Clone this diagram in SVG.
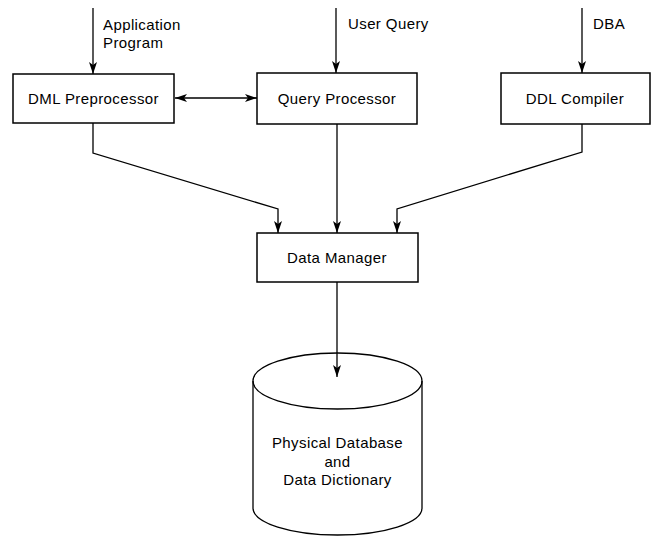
<svg xmlns="http://www.w3.org/2000/svg" width="652" height="536" viewBox="0 0 652 536">
<style>
.box{fill:#fff;stroke:#000;stroke-width:1.5}
.ln{fill:none;stroke:#000;stroke-width:1.3}
text{font-family:"Liberation Sans",Arial,sans-serif;font-size:15px;letter-spacing:0.4px;fill:#000}
.c{text-anchor:middle}
</style>
<defs>
<marker id="ah" viewBox="0 0 12 8" refX="12" refY="4" markerWidth="12" markerHeight="8" markerUnits="userSpaceOnUse" orient="auto-start-reverse">
<path d="M0,0 L12,4 L0,8 L3,4 z" fill="#000"/>
</marker>
</defs>
<rect width="652" height="536" fill="#fff"/>
<g id="connectors">
<line class="ln" x1="93" y1="8" x2="93" y2="74" marker-end="url(#ah)"/>
<line class="ln" x1="336" y1="8" x2="336" y2="73" marker-end="url(#ah)"/>
<line class="ln" x1="582" y1="8" x2="582" y2="73" marker-end="url(#ah)"/>
<line class="ln" x1="175" y1="98" x2="257" y2="98" marker-start="url(#ah)" marker-end="url(#ah)"/>
<polyline class="ln" points="93,123 93,153 278,209 278,233" marker-end="url(#ah)"/>
<line class="ln" x1="337" y1="124" x2="337" y2="233" marker-end="url(#ah)"/>
<polyline class="ln" points="582,124 582,152 397,209 397,233" marker-end="url(#ah)"/>
<line class="ln" x1="337" y1="282" x2="337" y2="377" marker-end="url(#ah)"/>
</g>
<g id="label-app">
<text x="103" y="30">Application</text>
<text x="103" y="48">Program</text>
</g>
<g id="label-user"><text x="348" y="29">User Query</text></g>
<g id="label-dba"><text x="593" y="29">DBA</text></g>
<g id="dml">
<rect class="box" x="13" y="74" width="161" height="49"/>
<text class="c" x="93.5" y="104">DML Preprocessor</text>
</g>
<g id="query">
<rect class="box" x="257" y="73" width="160" height="51"/>
<text class="c" x="337" y="104">Query Processor</text>
</g>
<g id="ddl">
<rect class="box" x="501" y="73" width="149" height="51"/>
<text class="c" x="575" y="104">DDL Compiler</text>
</g>
<g id="datamanager">
<rect class="box" x="257" y="233" width="161" height="49"/>
<text class="c" x="337" y="263">Data Manager</text>
</g>
<g id="database">
<path class="ln" d="M253,381 L253,508 A84.5,27 0 0 0 422,508 L422,381"/>
<ellipse class="ln" cx="337.5" cy="381" rx="84.5" ry="28"/>
<text class="c" x="337.5" y="448">Physical Database</text>
<text class="c" x="337.5" y="467">and</text>
<text class="c" x="337.5" y="485">Data Dictionary</text>
</g>
</svg>
